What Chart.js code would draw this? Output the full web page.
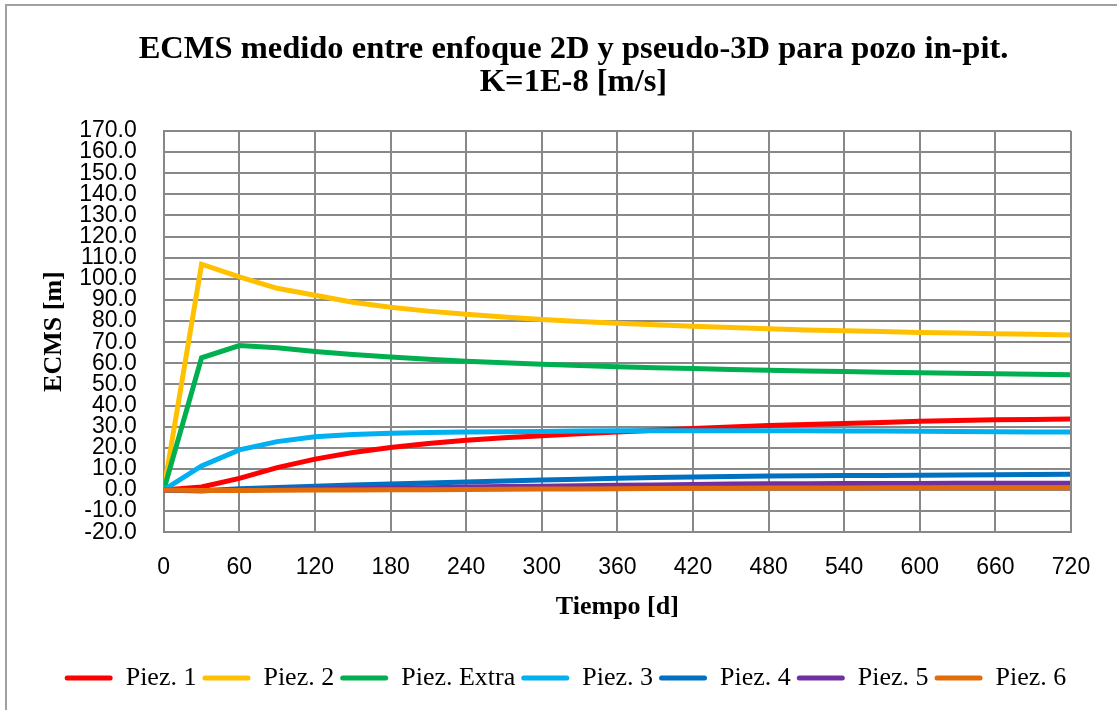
<!DOCTYPE html>
<html>
<head>
<meta charset="utf-8">
<script src="https://cdn.jsdelivr.net/npm/chart.js@4.4.1/dist/chart.umd.min.js"></script>
<style>
  html, body { margin: 0; padding: 0; background: #fff; overflow: hidden; }
  #wrap { position: relative; width: 1117px; height: 710px; }
  #frame { position: absolute; left: 5px; top: 4px; width: 1200px; height: 800px; border: 2px solid #a0a0a0; box-sizing: border-box; }
  #myChart { position: absolute; left: 0; top: 0; }
</style>
</head>
<body>
<div id="wrap">
  <div id="frame"></div>
  <canvas id="myChart" width="1117" height="710"></canvas>
</div>
<script>
// tiempo [d]
const days = [0, 30, 60, 90, 120, 150, 180, 210, 240, 270, 300, 330, 360, 390, 420, 450, 480, 510, 540, 570, 600, 630, 660, 690, 720];

// ECMS [m] per piezometer
const piez1 = [0, 1.4, 5.5, 10.6, 14.6, 17.7, 20.1, 22.0, 23.6, 24.7, 25.7, 26.6, 27.5, 28.3, 29.1, 29.8, 30.5, 31.0, 31.5, 32.0, 32.5, 32.9, 33.2, 33.4, 33.6];
const piez2 = [0, 106.9, 100.9, 95.5, 92.2, 88.9, 86.5, 84.7, 83.2, 81.9, 80.7, 79.8, 79.0, 78.2, 77.5, 76.9, 76.3, 75.8, 75.4, 75.0, 74.6, 74.3, 74.0, 73.7, 73.4];
const piezExtra = [0, 62.6, 68.4, 67.3, 65.6, 64.2, 63.0, 61.9, 61.0, 60.2, 59.5, 58.9, 58.4, 57.9, 57.5, 57.1, 56.7, 56.4, 56.1, 55.8, 55.5, 55.3, 55.0, 54.8, 54.6];
const piez3 = [0, 11.4, 19.0, 22.9, 25.2, 26.3, 26.9, 27.2, 27.4, 27.6, 27.7, 27.9, 28.0, 28.0, 28.0, 28.0, 28.0, 28.0, 27.9, 27.9, 27.8, 27.7, 27.6, 27.5, 27.4];
const piez4 = [0, -0.5, 0.6, 1.2, 1.8, 2.3, 2.8, 3.3, 3.8, 4.3, 4.7, 5.1, 5.5, 5.9, 6.2, 6.4, 6.6, 6.7, 6.8, 6.9, 7.0, 7.1, 7.2, 7.3, 7.4];
const piez5 = [0, -0.3, 0.0, 0.3, 0.5, 0.7, 0.9, 1.1, 1.4, 1.6, 1.8, 2.0, 2.2, 2.4, 2.6, 2.8, 3.0, 3.0, 3.1, 3.1, 3.1, 3.2, 3.2, 3.2, 3.2];
const piez6 = [0, -0.3, -0.2, -0.1, 0.0, 0.0, 0.1, 0.1, 0.2, 0.3, 0.4, 0.5, 0.6, 0.7, 0.8, 0.8, 0.9, 0.9, 0.9, 1.0, 1.0, 1.0, 1.0, 1.0, 1.0];

const seriesNames = ['Piez. 1', 'Piez. 2', 'Piez. Extra', 'Piez. 3', 'Piez. 4', 'Piez. 5', 'Piez. 6'];
const seriesValues = [piez1, piez2, piezExtra, piez3, piez4, piez5, piez6];
const seriesColors = ['#FF0000', '#FFC000', '#00B050', '#00B0F0', '#0070C0', '#7030A0', '#E36C0A'];

const titleLines = ['ECMS medido entre enfoque 2D y pseudo-3D para pozo in-pit.', 'K=1E-8 [m/s]'];

const serif = '"Liberation Serif", "Times New Roman", serif';
const sans = '"Liberation Sans", Arial, sans-serif';

function initChart() {
    const ctx = document.getElementById('myChart').getContext('2d');
    const datasets = seriesNames.map(function(name, i) {
        return {
            label: name,
            data: days.map(function(d, j) { return { x: d, y: seriesValues[i][j] }; }),
            borderColor: seriesColors[i],
            backgroundColor: seriesColors[i],
            borderWidth: 5,
            pointRadius: 0,
            tension: 0,
            order: -i // later series on top, like Excel
        };
    });

    new Chart(ctx, {
        type: 'line',
        data: { datasets: datasets },
        options: {
            responsive: false,
            animation: false,
            layout: { padding: { left: 0, right: 46, top: 0, bottom: 9 } },
            plugins: {
                title: {
                    display: true,
                    text: titleLines,
                    color: '#000',
                    font: { family: serif, size: 32.5, weight: 'bold', lineHeight: '33px' },
                    padding: { top: 33, bottom: 32 }
                },
                legend: {
                    position: 'bottom',
                    labels: {
                        color: '#000',
                        font: { family: serif, size: 26 },
                        boxWidth: 48,
                        boxHeight: 5,
                        padding: 6,
                        useBorderRadius: true,
                        borderRadius: 2.5,
                        sort: function(a, b) { return a.datasetIndex - b.datasetIndex; },
                        generateLabels: function(chart) {
                            const items = Chart.defaults.plugins.legend.labels.generateLabels(chart);
                            items.forEach(function(it) { it.lineWidth = 0; });
                            return items;
                        }
                    }
                },
                tooltip: { enabled: false }
            },
            scales: {
                x: {
                    type: 'linear',
                    min: 0,
                    max: 720,
                    border: { display: true, color: '#888', width: 2 },
                    grid: { color: '#888', lineWidth: 2, drawTicks: false },
                    ticks: {
                        stepSize: 60,
                        padding: 22,
                        color: '#000',
                        maxRotation: 0,
                        font: { family: sans, size: 23 }
                    },
                    title: {
                        display: true,
                        text: 'Tiempo [d]',
                        color: '#000',
                        font: { family: serif, size: 26, weight: 'bold' },
                        padding: { top: -12, bottom: 36 }
                    }
                },
                y: {
                    min: -20,
                    max: 170,
                    border: { display: true, color: '#888', width: 2 },
                    grid: { color: '#888', lineWidth: 2, drawTicks: false },
                    ticks: {
                        stepSize: 10,
                        padding: 27,
                        color: '#000',
                        autoSkip: false,
                        font: { family: sans, size: 23, lineHeight: 1 },
                        callback: function(v) { return v.toFixed(1); }
                    },
                    title: {
                        display: true,
                        text: 'ECMS [m]',
                        color: '#000',
                        font: { family: serif, size: 26, weight: 'bold' },
                        padding: { top: 39, bottom: -18 }
                    }
                }
            }
        },
        plugins: [{
            id: 'tweaks',
            afterLayout: function(chart) {
                // title and legend sit right of centre in the original
                chart.titleBlock.left += 38;
                chart.titleBlock.right += 38;
                chart.legend.left += 30;
                chart.legend.right += 30;
            },
            afterDraw: function(chart) {
                const a = chart.chartArea;
                const c = chart.ctx;
                c.save();
                c.strokeStyle = '#888';
                c.lineWidth = 2;
                c.beginPath();
                c.moveTo(a.right, a.top);
                c.lineTo(a.right, a.bottom);
                c.stroke();
                c.restore();
            }
        }]
    });
}

document.addEventListener('DOMContentLoaded', initChart);
</script>
</body>
</html>
